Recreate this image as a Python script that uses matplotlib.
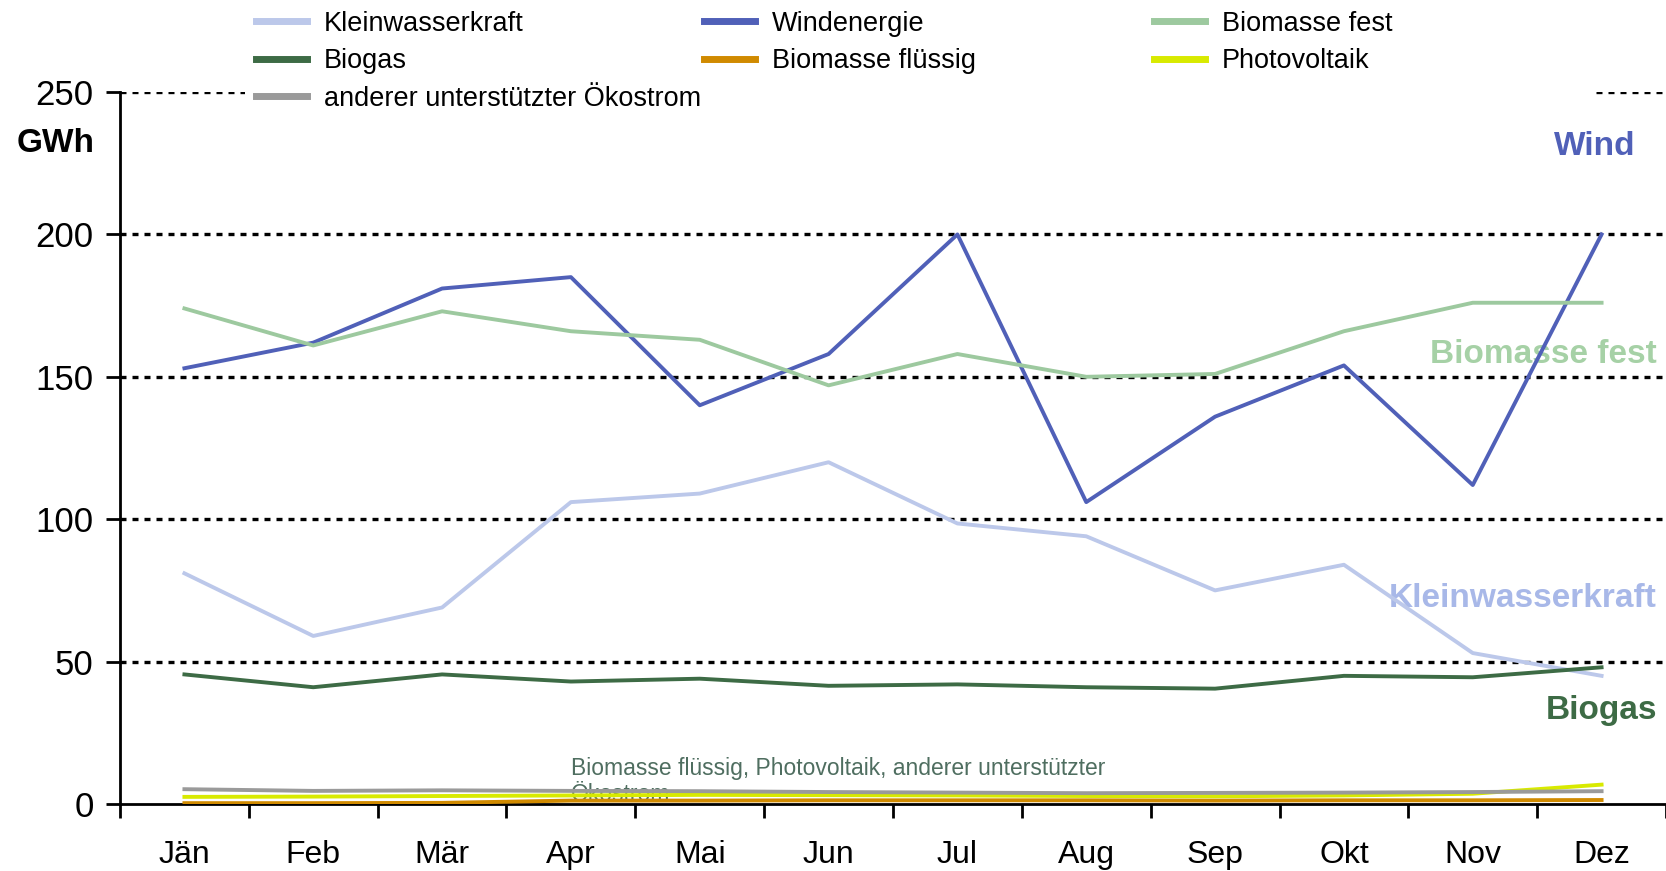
import matplotlib.pyplot as plt
import matplotlib.patches as mpatches
import numpy as np

months = ['Jän', 'Feb', 'Mär', 'Apr', 'Mai', 'Jun', 'Jul', 'Aug', 'Sep', 'Okt', 'Nov', 'Dez']

kleinwasser = [81, 59, 69, 106, 109, 120, 98.5, 94, 75, 84, 53, 45]
wind = [153, 162, 181, 185, 140, 158, 200, 106, 136, 154, 112, 200]
biomasse_fest = [174, 161, 173, 166, 163, 147, 158, 150, 151, 166, 176, 176]
biogas = [45.5, 41, 45.5, 43, 44, 41.5, 42, 41, 40.5, 45, 44.5, 48]
biomasse_fl = [0.3, 0.3, 0.4, 1.2, 1.2, 1.3, 1.3, 1.3, 1.2, 1.3, 1.3, 1.4]
photovoltaik = [2.5, 2.6, 2.8, 3.0, 3.2, 3.1, 3.0, 2.8, 2.7, 3.0, 3.6, 6.8]
anderer = [5.2, 4.6, 4.8, 4.6, 4.5, 4.2, 4.0, 3.8, 3.9, 4.0, 4.2, 4.5]

yticks = [0, 50, 100, 150, 200, 250]

c_klein = '#bcc8ea'
c_wind = '#5060b8'
c_bfest = '#9dc99f'
c_biogas = '#3d6b45'
c_bfl = '#d08a00'
c_pv = '#d8ea00'
c_and = '#9a9a9a'

plt.rcParams['font.family'] = ['Liberation Sans', 'DejaVu Sans']

fig = plt.figure(figsize=(16.66, 8.71), dpi=100)
ax = fig.add_axes([120 / 1666, 67 / 871, 1 - 120 / 1666, (804 - 92) / 871])

x = np.arange(len(months))
lw = 2.8
l_klein, = ax.plot(x, kleinwasser, color=c_klein, lw=lw, label='Kleinwasserkraft', zorder=3)
l_wind, = ax.plot(x, wind, color=c_wind, lw=lw, label='Windenergie', zorder=3)
l_bfest, = ax.plot(x, biomasse_fest, color=c_bfest, lw=lw, label='Biomasse fest', zorder=3)
l_biogas, = ax.plot(x, biogas, color=c_biogas, lw=lw, label='Biogas', zorder=3)
l_bfl, = ax.plot(x, biomasse_fl, color=c_bfl, lw=lw, label='Biomasse flüssig', zorder=3)
l_pv, = ax.plot(x, photovoltaik, color=c_pv, lw=lw, label='Photovoltaik', zorder=3)
l_and, = ax.plot(x, anderer, color=c_and, lw=lw, label='anderer unterstützter Ökostrom', zorder=3)

for v in yticks[1:]:
    ax.axhline(v, color='black', lw=2.4, dashes=(1.8, 1.8), zorder=1)

ax.set_xlim(-0.5, 11.44)
ax.set_ylim(0, 250)
ax.set_yticks(yticks)
ax.set_yticklabels([str(v) for v in yticks], fontsize=25)
ax.set_xticks(x)
ax.set_xticklabels(months, fontsize=23)
ax.set_xticks(np.arange(-0.5, 11.6, 1), minor=True)
ax.tick_params(axis='x', which='major', length=0, pad=26)
ax.tick_params(axis='x', which='minor', length=10, width=2, direction='out')
ax.tick_params(axis='y', length=10, width=2, direction='out', pad=9)
ax.spines['top'].set_visible(False)
ax.spines['right'].set_visible(False)
ax.spines['left'].set_linewidth(2)
ax.spines['bottom'].set_linewidth(2)
ax.patch.set_visible(False)

# series labels
ax.text(11.26, 231, 'Wind', color=c_wind, fontsize=24, fontweight='bold', ha='right', va='center')
ax.text(11.43, 158, 'Biomasse fest', color='#a6d1a6', fontsize=24, fontweight='bold',
        ha='right', va='center', zorder=2)
ax.text(11.43, 72, 'Kleinwasserkraft', color='#a8b8e8', fontsize=24, fontweight='bold',
        ha='right', va='center', zorder=2)
ax.text(11.43, 33, 'Biogas', color=c_biogas, fontsize=24, fontweight='bold', ha='right', va='center')
ax.text(3.0, 16.5, 'Biomasse flüssig, Photovoltaik, anderer unterstützter\nÖkostrom', color='#4f6e60',
        fontsize=16.5, ha='left', va='top', linespacing=1.15, zorder=2)

fig.text(17 / 1666, 1 - 143 / 871, 'GWh', fontsize=24, fontweight='bold', va='center', ha='left')

# white band behind legend hides the 250 gridline
fig.patches.append(mpatches.Rectangle((245 / 1666, 1 - 112 / 871), (1595 - 245) / 1666, 112 / 871,
                                      transform=fig.transFigure, facecolor='white',
                                      edgecolor='none', zorder=4))

cols = [([l_klein, l_biogas, l_and], 245), ([l_wind, l_bfl], 693), ([l_bfest, l_pv], 1143)]
for handles, xpos in cols:
    leg = fig.legend(handles=handles, loc='upper left', bbox_to_anchor=(xpos / 1666, 1.0),
                     frameon=False, prop={'size': 19.5}, handlelength=1.9,
                     handletextpad=0.6, labelspacing=0.42, borderaxespad=0)
    for h in leg.legend_handles:
        h.set_linewidth(5)
    leg.set_zorder(5)

fig.savefig('out.png', dpi=100)
